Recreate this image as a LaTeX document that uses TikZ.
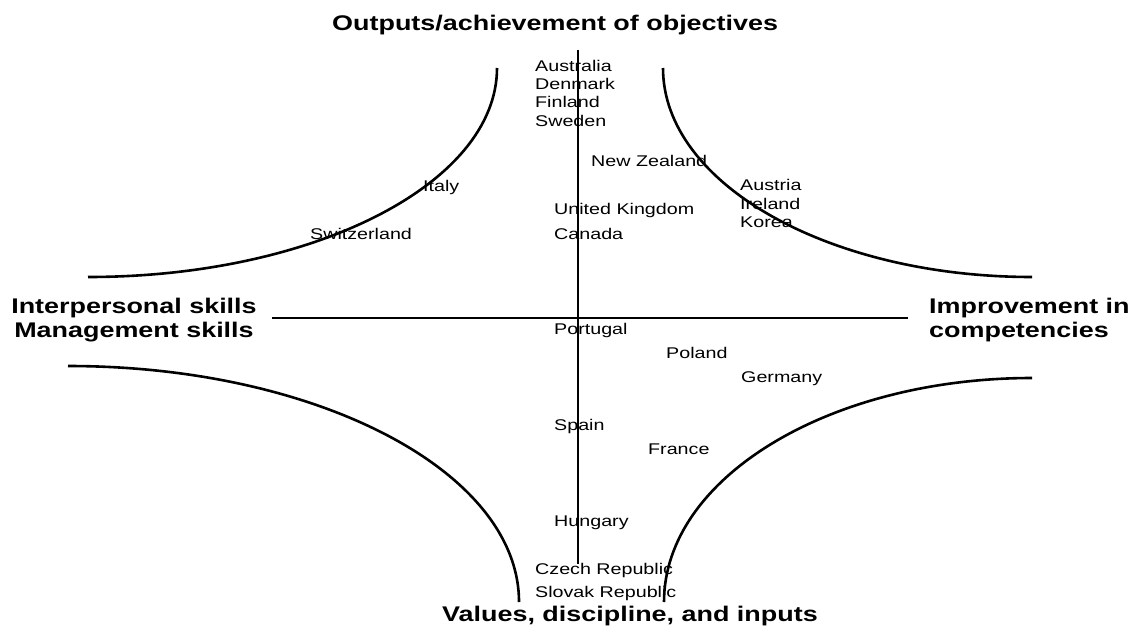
\documentclass[tikz,border=0pt]{standalone}
\usepackage{fontspec}
\setmainfont{Liberation Sans}[FakeStretch=1.27]
\usetikzlibrary{positioning}
\tikzset{%
  country/.style = {inner sep=0pt, anchor=base west,
    font=\fontsize{15.5}{18.5}\selectfont}, % country names
  pole/.style    = {inner sep=0pt, font=\fontsize{21.2}{24}\selectfont\bfseries}, % axis ends
  axis/.style    = {line width=2.6pt},
  curveline/.style = {line width=2.6pt}
}
\begin{document}
\begin{tikzpicture}[x=1pt, y=-1pt]
    \useasboundingbox (0,0) rectangle (1132,629);
    % axes
    \coordinate (top) at (578,50);
    \coordinate (bottom) at (578,564);
    \coordinate (left) at (272,318);
    \coordinate (right) at (908,318);
    \draw[axis] (top) -- (bottom);
    \draw[axis] (left) -- (right);

    % the four curves
    \draw[curveline] (497,68) arc[start angle=0, end angle=-90, x radius=409pt, y radius=209pt];
    \draw[curveline] (663,68) arc[start angle=180, end angle=270, x radius=369pt, y radius=209pt];
    \draw[curveline] (68,366) arc[start angle=90, end angle=0, x radius=451pt, y radius=236pt];
    \draw[curveline] (1032,378) arc[start angle=90, end angle=180, x radius=368pt, y radius=224pt];

    % pole labels
    \node[pole, anchor=base west] (outputs) at (332,30) {Outputs/achievement of objectives};
    \node[pole, anchor=base west] (values) at (442,621) {Values, discipline, and inputs};
    \node[pole, align=center] (skills) at (134,320) {Interpersonal skills\\Management skills};
    \node[pole, align=left, anchor=west] (competencies) at (929,320) {Improvement in\\competencies};

    % countries
    \node[country] (australia) at (535,71) {Australia};
    \node[country] (denmark) at (535,89) {Denmark};
    \node[country] (finland) at (535,107) {Finland};
    \node[country] (sweden) at (535,126) {Sweden};
    \node[country] (nz) at (591,166) {New Zealand};
    \node[country] (italy) at (423,191) {Italy};
    \node[country] (uk) at (554,214) {United Kingdom};
    \node[country] (canada) at (554,239) {Canada};
    \node[country] (switzerland) at (310,239) {Switzerland};
    \node[country] (austria) at (740,190) {Austria};
    \node[country] (ireland) at (740,209) {Ireland};
    \node[country] (korea) at (740,227) {Korea};
    \node[country] (portugal) at (554,334) {Portugal};
    \node[country] (poland) at (666,358) {Poland};
    \node[country] (germany) at (741,382) {Germany};
    \node[country] (spain) at (554,430) {Spain};
    \node[country] (france) at (648,454) {France};
    \node[country] (hungary) at (554,526) {Hungary};
    \node[country] (czech) at (535,574) {Czech Republic};
    \node[country] (slovak) at (535,597) {Slovak Republic};
\end{tikzpicture}
\end{document}
